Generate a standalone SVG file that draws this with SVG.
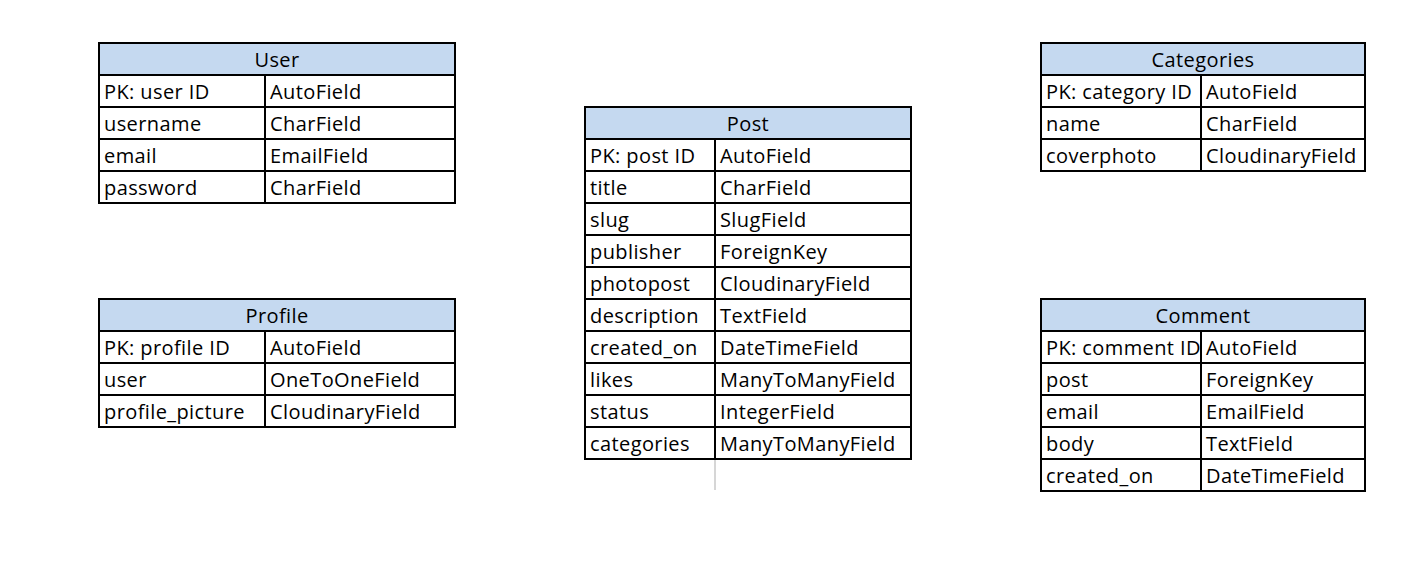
<svg xmlns="http://www.w3.org/2000/svg" width="1414" height="564" viewBox="0 0 1414 564">
<style>
.hd{fill:#c5d9f0;stroke:#000;stroke-width:2}
.cell{fill:#fff;stroke:#000;stroke-width:2}
.ln{stroke:#000;stroke-width:2}
text{font-family:"Open Sans","Noto Sans",sans-serif;font-size:20px;letter-spacing:0.4px;fill:#000}
.c{text-anchor:middle}
</style>
<rect width="1414" height="564" fill="#fff"/>
<g id="connectors">
<line x1="715" y1="459" x2="715" y2="490" stroke="#c8c8c8" stroke-width="1.5"/>
</g>
<g id="user">
<rect class="cell" x="99" y="43" width="356" height="160"/>
<rect class="hd" x="99" y="43" width="356" height="32"/>
<line class="ln" x1="99" y1="107" x2="455" y2="107"/>
<line class="ln" x1="99" y1="139" x2="455" y2="139"/>
<line class="ln" x1="99" y1="171" x2="455" y2="171"/>
<line class="ln" x1="265" y1="75" x2="265" y2="203"/>
<text class="c" x="277" y="67">User</text>
<text x="104" y="99">PK: user ID</text><text x="270" y="99">AutoField</text>
<text x="104" y="131">username</text><text x="270" y="131">CharField</text>
<text x="104" y="163">email</text><text x="270" y="163">EmailField</text>
<text x="104" y="195">password</text><text x="270" y="195">CharField</text>
</g>
<g id="profile">
<rect class="cell" x="99" y="299" width="356" height="128"/>
<rect class="hd" x="99" y="299" width="356" height="32"/>
<line class="ln" x1="99" y1="363" x2="455" y2="363"/>
<line class="ln" x1="99" y1="395" x2="455" y2="395"/>
<line class="ln" x1="265" y1="331" x2="265" y2="427"/>
<text class="c" x="277" y="323">Profile</text>
<text x="104" y="355">PK: profile ID</text><text x="270" y="355">AutoField</text>
<text x="104" y="387">user</text><text x="270" y="387">OneToOneField</text>
<text x="104" y="419">profile_picture</text><text x="270" y="419">CloudinaryField</text>
</g>
<g id="post">
<rect class="cell" x="585" y="107" width="326" height="352"/>
<rect class="hd" x="585" y="107" width="326" height="32"/>
<line class="ln" x1="585" y1="171" x2="911" y2="171"/>
<line class="ln" x1="585" y1="203" x2="911" y2="203"/>
<line class="ln" x1="585" y1="235" x2="911" y2="235"/>
<line class="ln" x1="585" y1="267" x2="911" y2="267"/>
<line class="ln" x1="585" y1="299" x2="911" y2="299"/>
<line class="ln" x1="585" y1="331" x2="911" y2="331"/>
<line class="ln" x1="585" y1="363" x2="911" y2="363"/>
<line class="ln" x1="585" y1="395" x2="911" y2="395"/>
<line class="ln" x1="585" y1="427" x2="911" y2="427"/>
<line class="ln" x1="715" y1="139" x2="715" y2="459"/>
<text class="c" x="748" y="131">Post</text>
<text x="590" y="163">PK: post ID</text><text x="720" y="163">AutoField</text>
<text x="590" y="195">title</text><text x="720" y="195">CharField</text>
<text x="590" y="227">slug</text><text x="720" y="227">SlugField</text>
<text x="590" y="259">publisher</text><text x="720" y="259">ForeignKey</text>
<text x="590" y="291">photopost</text><text x="720" y="291">CloudinaryField</text>
<text x="590" y="323">description</text><text x="720" y="323">TextField</text>
<text x="590" y="355">created_on</text><text x="720" y="355">DateTimeField</text>
<text x="590" y="387">likes</text><text x="720" y="387">ManyToManyField</text>
<text x="590" y="419">status</text><text x="720" y="419">IntegerField</text>
<text x="590" y="451">categories</text><text x="720" y="451">ManyToManyField</text>
</g>
<g id="categories">
<rect class="cell" x="1041" y="43" width="324" height="128"/>
<rect class="hd" x="1041" y="43" width="324" height="32"/>
<line class="ln" x1="1041" y1="107" x2="1365" y2="107"/>
<line class="ln" x1="1041" y1="139" x2="1365" y2="139"/>
<line class="ln" x1="1201" y1="75" x2="1201" y2="171"/>
<text class="c" x="1203" y="67">Categories</text>
<text x="1046" y="99">PK: category ID</text><text x="1206" y="99">AutoField</text>
<text x="1046" y="131">name</text><text x="1206" y="131">CharField</text>
<text x="1046" y="163">coverphoto</text><text x="1206" y="163">CloudinaryField</text>
</g>
<g id="comment">
<rect class="cell" x="1041" y="299" width="324" height="192"/>
<rect class="hd" x="1041" y="299" width="324" height="32"/>
<line class="ln" x1="1041" y1="363" x2="1365" y2="363"/>
<line class="ln" x1="1041" y1="395" x2="1365" y2="395"/>
<line class="ln" x1="1041" y1="427" x2="1365" y2="427"/>
<line class="ln" x1="1041" y1="459" x2="1365" y2="459"/>
<line class="ln" x1="1201" y1="331" x2="1201" y2="491"/>
<text class="c" x="1203" y="323">Comment</text>
<text x="1046" y="355">PK: comment ID</text><text x="1206" y="355">AutoField</text>
<text x="1046" y="387">post</text><text x="1206" y="387">ForeignKey</text>
<text x="1046" y="419">email</text><text x="1206" y="419">EmailField</text>
<text x="1046" y="451">body</text><text x="1206" y="451">TextField</text>
<text x="1046" y="483">created_on</text><text x="1206" y="483">DateTimeField</text>
</g>
</svg>
